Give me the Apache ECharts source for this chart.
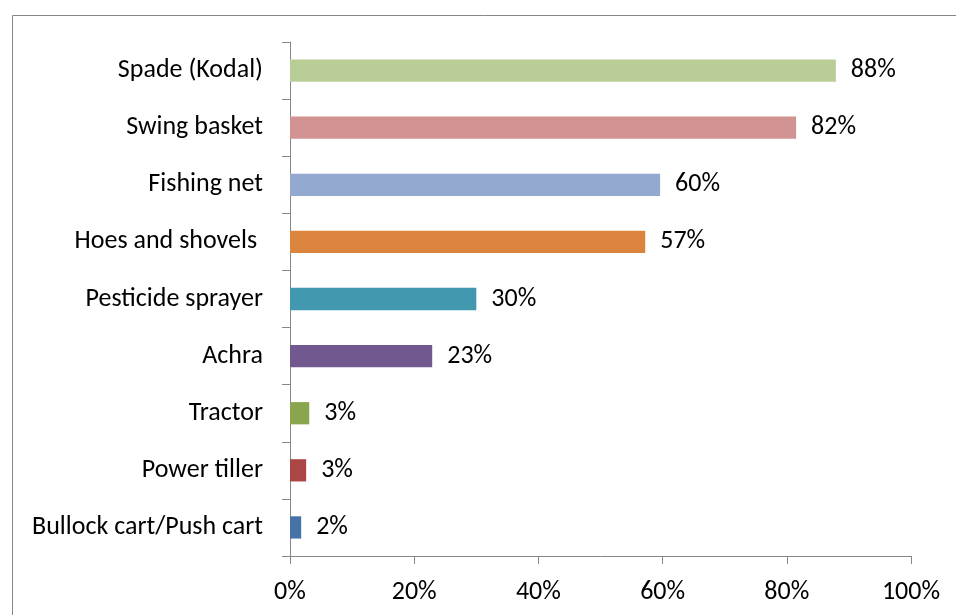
<!DOCTYPE html>
<html>
<head>
<meta charset="utf-8">
<style>html,body{margin:0;padding:0;background:#fff;}#c{width:956px;height:615px;}</style>
<script src="https://cdn.jsdelivr.net/npm/echarts@6/dist/echarts.min.js"></script>
</head>
<body>
<div id="c"></div>
<script>
const categories = ['Bullock cart/Push cart', 'Power tiller', 'Tractor', 'Achra', 'Pesticide sprayer', 'Hoes and shovels ', 'Fishing net', 'Swing basket', 'Spade (Kodal)'];
const values = [1.8, 2.6, 3.1, 22.9, 30.0, 57.2, 59.6, 81.5, 87.9];
const labels = ['2%', '3%', '3%', '23%', '30%', '57%', '60%', '82%', '88%'];
const colors = ['#4572A7', '#AA4643', '#89A54E', '#71588F', '#4198AF', '#DB843D', '#93A9CF', '#D19392', '#B9CD96'];
const xTicks = [0, 20, 40, 60, 80, 100];

const font = 'Calibri, Carlito, Lato, sans-serif';
const fs = 26;
const chart = echarts.init(document.getElementById('c'), null, {renderer: 'canvas'});
chart.setOption({
  animation: false,
  backgroundColor: '#fff',
  graphic: [{
    type: 'rect', left: 10, top: 13, silent: true,
    shape: {width: 1000, height: 700},
    style: {fill: 'none', stroke: '#868686', lineWidth: 1}
  }],
  grid: {left: 290, top: 42, right: 45, bottom: 59, containLabel: false},
  xAxis: {
    type: 'value', min: xTicks[0], max: xTicks[xTicks.length - 1], interval: 20,
    axisLine: {show: true, lineStyle: {color: '#868686'}},
    axisTick: {show: true, length: 8, lineStyle: {color: '#868686'}},
    splitLine: {show: false},
    axisLabel: {margin: 23, color: '#000', fontFamily: font, fontSize: fs, formatter: v => v + '%'}
  },
  yAxis: {
    type: 'category', data: categories,
    axisLine: {show: true, lineStyle: {color: '#868686'}},
    axisTick: {show: true, length: 8, lineStyle: {color: '#868686'}},
    axisLabel: {margin: 27, color: '#000', fontFamily: font, fontSize: fs, padding: [4, 0, 0, 0]}
  },
  series: [{
    type: 'bar',
    barCategoryGap: '61%',
    data: values.map((v, i) => ({value: v, itemStyle: {color: colors[i]}})),
    label: {
      show: true, position: 'right', distance: 15, color: '#000',
      fontFamily: font, fontSize: fs, padding: [5, 0, 0, 0],
      formatter: p => labels[p.dataIndex]
    }
  }]
});
</script>
</body>
</html>
